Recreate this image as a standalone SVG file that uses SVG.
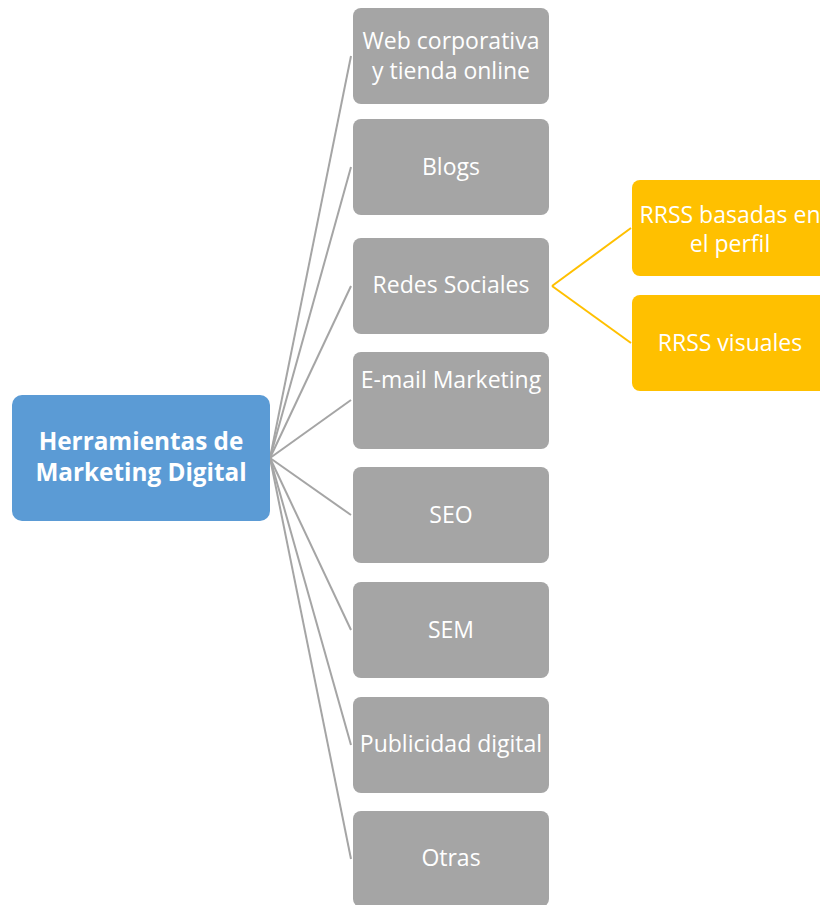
<svg xmlns="http://www.w3.org/2000/svg" width="820" height="905" viewBox="0 0 820 905">
<style>
.g{fill:#A5A5A5}
.y{fill:#FFC000}
.t{font-family:"Open Sans","Liberation Sans",Arial,sans-serif;font-size:23px;fill:#fff;text-anchor:middle}
.b{font-family:"Open Sans","Liberation Sans",Arial,sans-serif;font-size:24.3px;font-weight:bold;fill:#fff;text-anchor:middle}
.cg{stroke:#A5A5A5;stroke-width:2;fill:none}
.cy{stroke:#FFC000;stroke-width:2;fill:none}
</style>
<rect width="820" height="905" fill="#fff"/>
<g id="connectors">
<line class="cg" x1="270" y1="458" x2="351" y2="56"/>
<line class="cg" x1="270" y1="458" x2="351" y2="167"/>
<line class="cg" x1="270" y1="458" x2="351" y2="286"/>
<line class="cg" x1="270" y1="458" x2="351" y2="400"/>
<line class="cg" x1="270" y1="458" x2="351" y2="515"/>
<line class="cg" x1="270" y1="458" x2="351" y2="630"/>
<line class="cg" x1="270" y1="458" x2="351" y2="745"/>
<line class="cg" x1="270" y1="458" x2="351" y2="859"/>
<line class="cy" x1="552" y1="286" x2="631" y2="228"/>
<line class="cy" x1="552" y1="286" x2="631" y2="343"/>
</g>
<g id="root">
<rect x="12" y="395" width="258" height="126" rx="10" fill="#5B9BD5"/>
<text class="b" x="141" y="450">Herramientas de</text>
<text class="b" x="141" y="481">Marketing Digital</text>
</g>
<g id="web">
<rect class="g" x="353" y="8" width="196" height="96" rx="8"/>
<text class="t" x="451" y="49">Web corporativa</text>
<text class="t" x="451" y="79">y tienda online</text>
</g>
<g id="blogs">
<rect class="g" x="353" y="119" width="196" height="96" rx="8"/>
<text class="t" x="451" y="175">Blogs</text>
</g>
<g id="redes">
<rect class="g" x="353" y="238" width="196" height="96" rx="8"/>
<text class="t" x="451" y="293">Redes Sociales</text>
</g>
<g id="email">
<rect class="g" x="353" y="352" width="196" height="97" rx="8"/>
<text class="t" x="451" y="388">E-mail Marketing</text>
</g>
<g id="seo">
<rect class="g" x="353" y="467" width="196" height="96" rx="8"/>
<text class="t" x="451" y="523">SEO</text>
</g>
<g id="sem">
<rect class="g" x="353" y="582" width="196" height="96" rx="8"/>
<text class="t" x="451" y="638">SEM</text>
</g>
<g id="publicidad">
<rect class="g" x="353" y="697" width="196" height="96" rx="8"/>
<text class="t" x="451" y="752">Publicidad digital</text>
</g>
<g id="otras">
<rect class="g" x="353" y="811" width="196" height="96" rx="8"/>
<text class="t" x="451" y="866">Otras</text>
</g>
<g id="rrss-perfil">
<rect class="y" x="632" y="180" width="196" height="96" rx="8"/>
<text class="t" x="730" y="223">RRSS basadas en</text>
<text class="t" x="730" y="252">el perfil</text>
</g>
<g id="rrss-visuales">
<rect class="y" x="632" y="295" width="196" height="96" rx="8"/>
<text class="t" x="730" y="351">RRSS visuales</text>
</g>
</svg>
